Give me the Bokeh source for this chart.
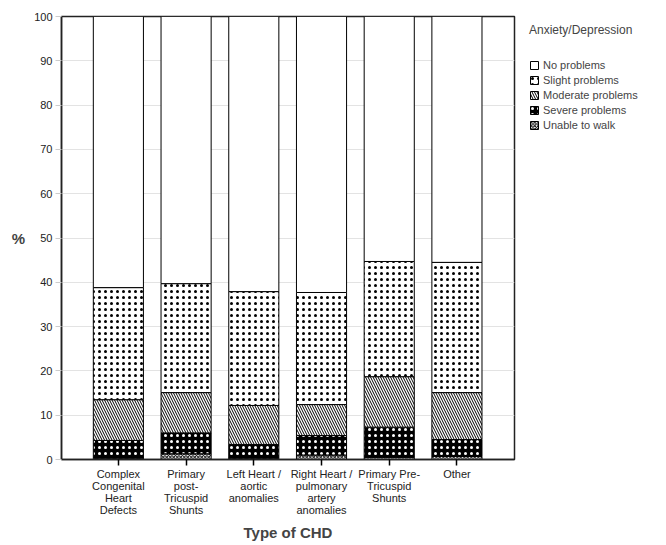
from bokeh.plotting import figure
from bokeh.models import ColumnDataSource, Legend, LegendItem, FixedTicker, Range1d
from bokeh.layouts import row
from bokeh.embed import file_html
from bokeh.resources import INLINE

categories = ["Complex\nCongenital\nHeart\nDefects", "Primary\npost-\nTricuspid\nShunts",
              "Left Heart /\naortic\nanomalies", "Right Heart /\npulmonary\nartery\nanomalies",
              "Primary Pre-\nTricuspid\nShunts", "Other"]
unable = [0.3, 1.3, 0.3, 1.0, 0.5, 0.7]
severe = [4.0, 4.7, 3.1, 4.4, 6.8, 3.8]
moderate = [9.2, 9.1, 8.8, 7.0, 11.4, 10.6]
slight = [25.3, 24.6, 25.7, 25.3, 26.0, 29.4]
no_problems = [61.2, 60.3, 62.1, 62.3, 55.3, 55.5]
series_names = ["No problems", "Slight problems", "Moderate problems", "Severe problems", "Unable to walk"]
y_ticks = list(range(0, 101, 10))

FONT = "Liberation Sans"
H = 543

p = figure(width=520, height=H, output_backend="svg", toolbar_location=None,
           x_range=Range1d(-0.84, 5.85), y_range=Range1d(0, 100),
           min_border_left=61, min_border_right=6, min_border_top=16, min_border_bottom=84)
p.outline_line_color = "#222222"
p.outline_line_width = 1.5
p.background_fill_color = "white"
p.border_fill_color = "white"

xs = list(range(len(categories)))
styles = {
    "Unable to walk": dict(fill_color="white", hatch_pattern="x", hatch_color="black", hatch_scale=3.5, hatch_weight=1),
    "Severe problems": dict(fill_color="black", hatch_pattern=".", hatch_color="white", hatch_scale=6, hatch_weight=1),
    "Moderate problems": dict(fill_color="white", hatch_pattern="\\", hatch_color="black", hatch_scale=5, hatch_weight=1),
    "Slight problems": dict(fill_color="white", hatch_pattern=".", hatch_color="black", hatch_scale=6, hatch_weight=0.5),
    "No problems": dict(fill_color="white"),
}
layers = [("Unable to walk", unable), ("Severe problems", severe), ("Moderate problems", moderate),
          ("Slight problems", slight), ("No problems", no_problems)]

bottom = [0.0] * len(categories)
for name, vals in layers:
    top = [b + v for b, v in zip(bottom, vals)]
    src = ColumnDataSource(dict(x=xs, bottom=bottom, top=top))
    p.vbar(x="x", bottom="bottom", top="top", width=0.74, source=src,
           line_color="black", line_width=1, **styles[name])
    bottom = top

p.xgrid.grid_line_color = None
p.ygrid.grid_line_color = "#e3e3e3"
p.ygrid.ticker = FixedTicker(ticks=y_ticks)

p.yaxis.ticker = FixedTicker(ticks=y_ticks)
p.yaxis.axis_line_color = "#222222"
p.yaxis.axis_line_width = 1.5
p.yaxis.major_tick_line_color = "#cccccc"
p.yaxis.major_tick_out = 6
p.yaxis.major_tick_in = 0
p.yaxis.minor_tick_line_color = None
p.yaxis.major_label_text_font = FONT
p.yaxis.major_label_text_font_size = "11px"
p.yaxis.major_label_text_color = "#222222"
p.yaxis.major_label_standoff = 3
p.yaxis.axis_label = "%"
p.yaxis.axis_label_orientation = "horizontal"
p.yaxis.axis_label_text_font = FONT
p.yaxis.axis_label_text_font_size = "15px"
p.yaxis.axis_label_text_font_style = "bold"
p.yaxis.axis_label_standoff = 6

p.xaxis.ticker = FixedTicker(ticks=xs)
p.xaxis.major_label_overrides = {i: c for i, c in enumerate(categories)}
p.xaxis.axis_line_color = "#222222"
p.xaxis.axis_line_width = 1.5
p.xaxis.major_tick_line_color = "black"
p.xaxis.major_tick_line_width = 1.5
p.xaxis.major_tick_out = 6
p.xaxis.major_tick_in = 0
p.xaxis.minor_tick_line_color = None
p.xaxis.major_label_text_font = FONT
p.xaxis.major_label_text_font_size = "11px"
p.xaxis.major_label_text_line_height = 1.0
p.xaxis.major_label_text_color = "#222222"
p.xaxis.major_label_standoff = 2
p.xaxis.axis_label = "Type of CHD"
p.xaxis.axis_label_text_font = FONT
p.xaxis.axis_label_text_font_size = "15px"
p.xaxis.axis_label_text_font_style = "bold"
p.xaxis.axis_label_standoff = 5

# legend panel (its own figure to the right of the chart)
p2 = figure(width=140, height=H, output_backend="svg", toolbar_location=None,
            x_axis_type=None, y_axis_type=None, x_range=Range1d(0, 1), y_range=Range1d(0, 1),
            min_border=0)
p2.outline_line_color = None
p2.background_fill_color = "white"
p2.border_fill_color = "white"
items = []
for name in series_names:
    # a swatch placed outside the visible range so only the legend shows it
    r = p2.vbar(x=[5], top=[5], bottom=[4], width=0.1, line_color="black", line_width=1, **styles[name])
    items.append(LegendItem(label=name, renderers=[r]))
legend = Legend(items=items, location=(9, H - 215), title="Anxiety/Depression",
                title_text_font=FONT, title_text_font_size="12px", title_text_font_style="normal",
                title_standoff=22, label_text_font=FONT, label_text_font_size="11px",
                glyph_width=10, glyph_height=10, label_height=11, label_standoff=4, spacing=3,
                padding=0, margin=0, border_line_color=None, background_fill_alpha=0)
p2.add_layout(legend)

open("out.html", "w").write(file_html(row(p, p2), INLINE))
